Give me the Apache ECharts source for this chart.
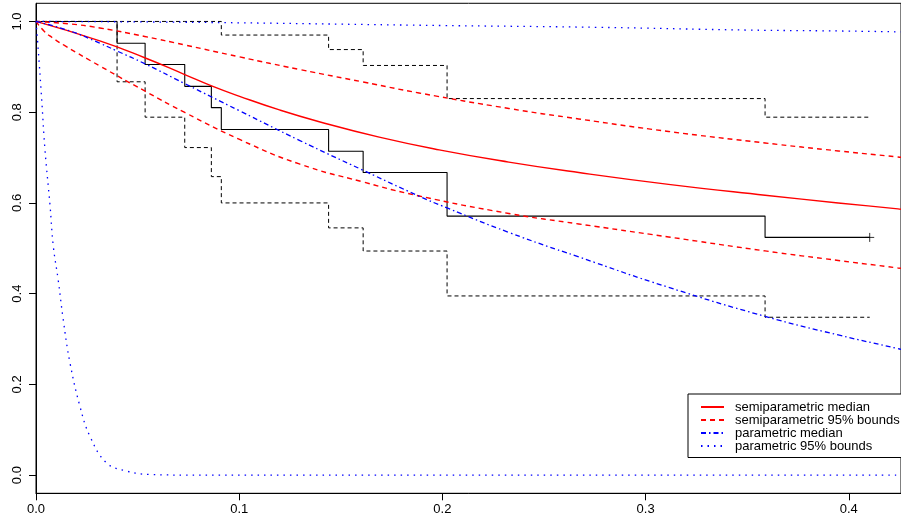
<!DOCTYPE html>
<html>
<head>
<meta charset="utf-8">
<script src="https://cdn.jsdelivr.net/npm/echarts@6/dist/echarts.min.js"></script>
<style>
html,body{margin:0;padding:0;background:#fff;}
#chart{width:901px;height:521px;}
</style>
</head>
<body>
<div id="chart"></div>
<script>
// Kaplan-Meier estimate and its 95% limits
const kmTime  = [0, 0.0399, 0.0537, 0.0732, 0.0863, 0.0912, 0.1440, 0.1610, 0.2023, 0.3588, 0.4103];
const kmSurv  = [1, 0.952, 0.905, 0.857, 0.810, 0.762, 0.714, 0.667, 0.571, 0.524, 0.524];
const kmUpper = [1, 1, 1, 1, 1, 0.970, 0.938, 0.903, 0.830, 0.789, 0.789];
const kmLower = [1, 0.867, 0.789, 0.722, 0.658, 0.600, 0.545, 0.494, 0.395, 0.348, 0.348];
const censorTime = [0.4103];
const censorSurv = [0.524];

// semiparametric median
const semiMedTime = [0, 0.0314, 0.0535, 0.0732, 0.0864, 0.1002, 0.1198, 0.1394, 0.1689, 0.1984, 0.2327, 0.2671, 0.3113, 0.3588, 0.3948, 0.4242, 0.4257];
const semiMedVal  = [1, 0.957, 0.920, 0.883, 0.858, 0.835, 0.805, 0.779, 0.745, 0.717, 0.690, 0.667, 0.641, 0.617, 0.600, 0.587, 0.586];
// semiparametric 95% bounds
const semiUpTime = [0, 0.0167, 0.0314, 0.0535, 0.0732, 0.1002, 0.1296, 0.1610, 0.1885, 0.2327, 0.2671, 0.3113, 0.3588, 0.3948, 0.4242, 0.4257];
const semiUpVal  = [1, 0.9945, 0.9857, 0.9669, 0.9482, 0.9218, 0.8942, 0.8666, 0.8424, 0.8082, 0.7851, 0.7575, 0.7322, 0.7146, 0.7013, 0.7007];
const semiLoTime = [0, 0.0039, 0.0079, 0.0140, 0.0314, 0.0535, 0.0732, 0.1002, 0.1296, 0.1610, 0.1885, 0.2327, 0.2671, 0.3113, 0.3588, 0.3948, 0.4242, 0.4257];
const semiLoVal  = [1, 0.979, 0.9647, 0.9471, 0.9019, 0.8468, 0.7994, 0.7399, 0.6859, 0.6462, 0.6154, 0.5768, 0.5537, 0.5250, 0.4942, 0.4732, 0.4567, 0.4559];

// parametric median
const parMedTime = [0, 0.0167, 0.0314, 0.0398, 0.0535, 0.0732, 0.1002, 0.1296, 0.1610, 0.1885, 0.2023, 0.2327, 0.2671, 0.3113, 0.3588, 0.3948, 0.4242, 0.4257];
const parMedVal  = [1, 0.979, 0.952, 0.935, 0.907, 0.863, 0.803, 0.738, 0.672, 0.615, 0.589, 0.535, 0.481, 0.414, 0.350, 0.309, 0.279, 0.277];
// parametric 95% bounds
const parUpTime = [0, 0.05, 0.10, 0.15, 0.20, 0.2769, 0.35, 0.3948, 0.4257];
const parUpVal  = [1, 0.999, 0.997, 0.994, 0.991, 0.987, 0.981, 0.979, 0.977];
const parLoTime = [0, 0.0011, 0.0028, 0.0044, 0.0069, 0.0085, 0.0109, 0.0134, 0.0167, 0.0216, 0.0265, 0.0347, 0.0445, 0.056, 0.0805, 0.4257];
const parLoVal  = [1, 0.938, 0.828, 0.718, 0.595, 0.505, 0.431, 0.343, 0.248, 0.152, 0.086, 0.027, 0.009, 0.0015, 0, 0];

const xTicks = [0, 0.1, 0.2, 0.3, 0.4];
const yTicks = [0, 0.2, 0.4, 0.6, 0.8, 1.0];
const legendNames = ['semiparametric median', 'semiparametric 95% bounds', 'parametric median', 'parametric 95% bounds'];

const zip = (a, b) => a.map((v, i) => [v, b[i]]);
const FONT = 'Liberation Sans, Arial, Helvetica, sans-serif';
const RED = '#ff0000', BLUE = '#0000ff';
const hidden = { color: 'rgba(0,0,0,0)' };

function curve(name, t, v, color, type, width, smooth) {
  return {
    name: name, type: 'line', data: zip(t, v), symbol: 'none', silent: true,
    smooth: smooth,
    itemStyle: hidden,
    lineStyle: { color: color, width: width, type: type },
    z: 3
  };
}

const chart = echarts.init(document.getElementById('chart'), null, { renderer: 'canvas' });
chart.setOption({
  animation: false,
  backgroundColor: '#ffffff',
  textStyle: { fontFamily: FONT },
  grid: { left: 36, top: 3.3, right: -2, bottom: 27.7, show: true, borderColor: '#000', borderWidth: 1 },
  xAxis: {
    type: 'value', min: 0, max: 0.4257,
    splitLine: { show: false },
    axisLine: { show: true, onZero: false, lineStyle: { color: '#000', width: 1 } },
    axisTick: { show: true, length: 7, customValues: xTicks, lineStyle: { color: '#000' } },
    axisLabel: { customValues: xTicks, margin: 10, color: '#000', fontSize: 13, fontFamily: FONT,
      formatter: v => v.toFixed(1) }
  },
  yAxis: {
    type: 'value', min: -0.04, max: 1.04,
    splitLine: { show: false },
    axisLine: { show: true, onZero: false, lineStyle: { color: '#000', width: 1 } },
    axisTick: { show: true, length: 7, customValues: yTicks, lineStyle: { color: '#000' } },
    axisLabel: { customValues: yTicks, margin: 12, rotate: 90, color: '#000', fontSize: 13, fontFamily: FONT,
      formatter: v => v.toFixed(1) }
  },
  legend: {
    data: legendNames,
    orient: 'vertical',
    left: 688, top: 394,
    padding: [6.5, 6, 5, 12],
    itemWidth: 23, itemHeight: 10, itemGap: 0,
    borderColor: '#000', borderWidth: 1, backgroundColor: '#fff',
    selectedMode: false,
    itemStyle: { opacity: 0 },
    textStyle: { color: '#000', fontSize: 13, lineHeight: 13, fontFamily: FONT, padding: [0, 0, 0, 6] }
  },
  series: [
    { name: 'KM', type: 'line', step: 'end', data: zip(kmTime, kmSurv), symbol: 'none', silent: true,
      itemStyle: hidden, lineStyle: { color: '#000', width: 1.1, type: 'solid' }, z: 2 },
    { name: 'KM upper', type: 'line', step: 'end', data: zip(kmTime, kmUpper), symbol: 'none', silent: true,
      itemStyle: hidden, lineStyle: { color: '#000', width: 1, type: [4, 3] }, z: 2 },
    { name: 'KM lower', type: 'line', step: 'end', data: zip(kmTime, kmLower), symbol: 'none', silent: true,
      itemStyle: hidden, lineStyle: { color: '#000', width: 1, type: [4, 3] }, z: 2 },
    { name: 'censored', type: 'scatter', data: zip(censorTime, censorSurv), silent: true,
      symbol: 'path://M0,5L10,5M5,0L5,10', symbolSize: 9,
      itemStyle: { color: 'rgba(0,0,0,0)', borderColor: '#000', borderWidth: 1 }, z: 4 },
    curve('semiparametric median', semiMedTime, semiMedVal, RED, 'solid', 1.4, 0.5),
    curve('semiparametric 95% bounds', semiUpTime, semiUpVal, RED, [5, 4], 1.4, 0.5),
    curve('semiparametric 95% bounds', semiLoTime, semiLoVal, RED, [5, 4], 1.4, 0.5),
    curve('parametric median', parMedTime, parMedVal, BLUE, [5, 3, 1.5, 3], 1.3, 0.5),
    curve('parametric 95% bounds', parUpTime, parUpVal, BLUE, [1.5, 5], 1.3, 0.5),
    curve('parametric 95% bounds', parLoTime, parLoVal, BLUE, [1.5, 5], 1.3, 0.4)
  ]
});
</script>
</body>
</html>
